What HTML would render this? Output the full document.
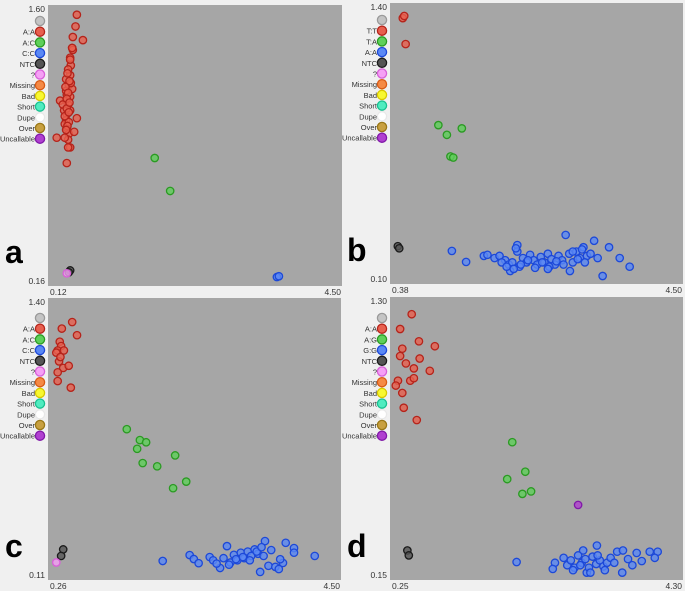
<!DOCTYPE html>
<html><head><meta charset="utf-8">
<style>
body{margin:0;background:#f0f0f0;width:685px;height:591px;overflow:hidden;font-family:"Liberation Sans",sans-serif;}
svg{position:absolute;left:0;top:0}
</style></head>
<body>
<svg id="chart" width="685" height="591"></svg>
<script>
// Panel a
const aRedX=[0.55,0.53,0.49,0.64,0.48,0.49,0.48,0.45,0.46,0.45,0.43,0.40,0.39,0.42,0.40,0.39,0.40,0.43,0.51,0.42,0.45,0.25,0.37,0.42,0.40,0.55,0.30,0.36,0.45,0.39,0.48,0.42,0.39,0.34,0.37,0.45,0.46,0.45,0.40,0.43,0.41,0.44,0.38,0.42,0.40,0.44,0.37,0.43,0.41,0.39];
const aRedY=[1.55,1.49,1.436,1.42,1.38,1.37,1.38,1.33,1.29,1.24,1.19,1.14,1.11,1.09,1.04,1.01,0.97,0.94,0.95,0.91,0.87,0.92,0.92,0.87,0.79,1.02,1.11,1.06,1.06,1.16,1.17,1.27,1.22,1.09,0.99,1.32,1.20,1.13,1.07,1.00,1.25,1.21,1.18,1.15,1.12,1.10,1.03,1.05,0.98,0.96];
const aGreenX=[1.71,1.94];
const aGreenY=[0.816,0.647];
const aBlueX=[3.53,3.56];
const aBlueY=[0.206,0.21];
const aBlackX=[0.45,0.43];
const aBlackY=[0.24,0.23];
const aPinkX=[0.40];
const aPinkY=[0.225];
// Panel b
const bRedX=[0.56,0.58,0.60];
const bRedY=[1.33,1.34,1.21];
const bGreenX=[1.06,1.18,1.39,1.23,1.27];
const bGreenY=[0.835,0.79,0.82,0.69,0.685];
const bBlackX=[0.49,0.51];
const bBlackY=[0.275,0.265];
const bBlueX=[1.25,1.45,1.70,1.75,1.85,1.92,2.00,2.05,2.10,2.17,2.17,2.20,2.25,2.30,2.35,2.40,2.45,2.50,2.55,2.60,2.65,2.70,2.75,2.80,2.85,2.90,2.95,3.00,3.05,3.10,3.15,3.20,3.25,3.30,3.46,3.61,3.75,3.37,2.91,2.07,1.95,2.02,2.12,2.22,2.32,2.42,2.52,2.62,2.72,2.82,3.02,3.12,2.15,2.60,2.95,3.08];
const bBlueY=[0.253,0.202,0.23,0.235,0.22,0.23,0.21,0.19,0.2,0.28,0.25,0.18,0.22,0.2,0.235,0.21,0.19,0.225,0.2,0.24,0.215,0.19,0.23,0.21,0.327,0.24,0.2,0.25,0.22,0.27,0.23,0.24,0.30,0.22,0.27,0.22,0.18,0.137,0.16,0.16,0.2,0.18,0.17,0.19,0.21,0.175,0.2,0.18,0.205,0.19,0.215,0.2,0.265,0.17,0.25,0.26];
// Panel c
const cRedX=[0.46,0.61,0.68,0.43,0.45,0.40,0.38,0.49,0.42,0.48,0.56,0.40,0.40,0.59,0.44];
const cRedY=[1.26,1.29,1.23,1.20,1.18,1.16,1.15,1.16,1.11,1.08,1.09,1.06,1.02,0.99,1.13];
const cGreenX=[1.40,1.59,1.68,1.55,1.63,1.84,2.10,2.07,2.26];
const cGreenY=[0.80,0.75,0.74,0.71,0.645,0.63,0.68,0.53,0.56];
const cBlackX=[0.48,0.45];
const cBlackY=[0.25,0.22];
const cPinkX=[0.38];
const cPinkY=[0.19];
const cBlueX=[1.92,2.31,2.37,2.44,2.60,2.75,2.85,3.40,3.70,3.82,4.12,3.33,3.66,3.49,2.65,2.80,2.90,2.95,3.00,3.05,3.10,3.15,3.20,3.25,3.30,2.70,2.88,2.98,3.08,3.18,3.28,3.35,3.45,3.55,3.62,3.82,3.60,3.38];
const cBlueY=[0.197,0.224,0.206,0.187,0.215,0.165,0.265,0.288,0.28,0.256,0.22,0.147,0.188,0.247,0.2,0.21,0.19,0.225,0.2,0.235,0.21,0.24,0.22,0.25,0.23,0.185,0.18,0.205,0.215,0.2,0.24,0.26,0.175,0.17,0.205,0.235,0.16,0.22];
// Panel d
const dRedX=[0.55,0.39,0.65,0.87,0.42,0.39,0.58,0.80,0.36,0.53,0.58,0.42,0.44,0.62,0.66,0.47,0.33];
const dRedY=[1.23,1.17,1.12,1.10,1.09,1.06,1.01,1.00,0.96,0.96,0.97,0.91,0.85,0.80,1.05,1.03,0.94];
const dGreenX=[1.94,2.12,1.87,2.08,2.20];
const dGreenY=[0.71,0.59,0.56,0.50,0.51];
const dPurpleX=[2.85];
const dPurpleY=[0.455];
const dBlackX=[0.49,0.51];
const dBlackY=[0.27,0.25];
const dBlueX=[2.00,2.53,2.50,3.11,2.92,3.39,3.47,3.66,3.84,3.95,3.91,3.73,3.54,3.46,2.97,2.70,2.75,2.80,2.85,2.90,2.95,3.00,3.05,3.10,3.15,3.20,3.25,3.30,2.78,2.88,3.02,3.12,3.22,3.35,2.65,3.60];
const dBlueY=[0.223,0.22,0.195,0.29,0.27,0.265,0.27,0.26,0.265,0.265,0.24,0.227,0.235,0.18,0.18,0.21,0.23,0.2,0.25,0.22,0.235,0.2,0.245,0.215,0.23,0.205,0.22,0.24,0.19,0.21,0.18,0.25,0.19,0.22,0.24,0.21];

const xTicksA=["0.12","4.50"],yTicksA=["1.60","0.16"];
const xTicksB=["0.38","4.50"],yTicksB=["1.40","0.10"];
const xTicksC=["0.26","4.50"],yTicksC=["1.40","0.11"];
const xTicksD=["0.25","4.30"],yTicksD=["1.30","0.15"];
const legA=["","A:A","A:C","C:C","NTC","?","Missing","Bad","Short","Dupe","Over","Uncallable"];
const legB=["","T:T","T:A","A:A","NTC","?","Missing","Bad","Short","Dupe","Over","Uncallable"];
const legC=["","A:A","A:C","C:C","NTC","?","Missing","Bad","Short","Dupe","Over","Uncallable"];
const legD=["","A:A","A:G","G:G","NTC","?","Missing","Bad","Short","Dupe","Over","Uncallable"];

const C={gray:["#c4c4c4","#9a9a9a"],red:["#e8604f","#b5231a"],green:["#5fd05a","#2a9a22"],blue:["#5a88f5","#1c48d8"],black:["#555","#1a1a1a"],pink:["#f5a0f5","#d860d8"],orange:["#f58a45","#d85a15"],yellow:["#f8f830","#d8c800"],teal:["#50ecc0","#18c090"],white:["#ffffff","#e8e8e8"],over:["#c8a040","#9a7818"],purple:["#b040d0","#8018a8"]};
const legCols=["gray","red","green","blue","black","pink","orange","yellow","teal","white","over","purple"];
const svg=document.getElementById('chart');const NS="http://www.w3.org/2000/svg";
function mk(t,a,p){const e=document.createElementNS(NS,t);for(const k in a)e.setAttribute(k,a[k]);(p||svg).appendChild(e);return e;}
const panels=[
 {id:"a",l:48,t:5,r:342,b:286,xd:[0.12,4.5],yd:[0.16,1.6],xt:xTicksA,yt:yTicksA,leg:legA,ly:21,ls:[["red",aRedX,aRedY],["green",aGreenX,aGreenY],["blue",aBlueX,aBlueY],["black",aBlackX,aBlackY],["pink",aPinkX,aPinkY]]},
 {id:"b",l:390,t:3,r:683,b:284,xd:[0.38,4.5],yd:[0.10,1.4],xt:xTicksB,yt:yTicksB,leg:legB,ly:20,ls:[["red",bRedX,bRedY],["green",bGreenX,bGreenY],["blue",bBlueX,bBlueY],["black",bBlackX,bBlackY]]},
 {id:"c",l:48,t:298,r:341,b:580,xd:[0.26,4.5],yd:[0.11,1.4],xt:xTicksC,yt:yTicksC,leg:legC,ly:318,ls:[["red",cRedX,cRedY],["green",cGreenX,cGreenY],["blue",cBlueX,cBlueY],["black",cBlackX,cBlackY],["pink",cPinkX,cPinkY]]},
 {id:"d",l:390,t:297,r:683,b:580,xd:[0.25,4.3],yd:[0.15,1.3],xt:xTicksD,yt:yTicksD,leg:legD,ly:318,ls:[["red",dRedX,dRedY],["green",dGreenX,dGreenY],["purple",dPurpleX,dPurpleY],["blue",dBlueX,dBlueY],["black",dBlackX,dBlackY]]}
];
panels.forEach(P=>{
 const g=mk('g',{});
 
 
 const bg=mk('rect',{x:P.l,y:P.t,width:P.r-P.l,height:P.b-P.t,fill:"#a6a6a6"},g);
 
 
 const sx=v=>P.l+(v-P.xd[0])/(P.xd[1]-P.xd[0])*(P.r-P.l);
 const sy=v=>P.b-(v-P.yd[0])/(P.yd[1]-P.yd[0])*(P.b-P.t);
 const yt1=mk('text',{x:P.l-3,y:P.t+7,'text-anchor':'end','font-size':8.5,fill:"#333"},g);yt1.textContent=P.yt[0];
 
 
 const yt2=mk('text',{x:P.l-3,y:P.b-2,'text-anchor':'end','font-size':8.5,fill:"#333"},g);yt2.textContent=P.yt[1];
 
 
 const xt1=mk('text',{x:P.l+2,y:P.b+9,'font-size':8.5,fill:"#333"},g);xt1.textContent=P.xt[0];
 
 
 const xt2=mk('text',{x:P.r-1,y:P.b+9,'text-anchor':'end','font-size':8.5,fill:"#333"},g);xt2.textContent=P.xt[1];
 
 
 P.leg.forEach((lab,i)=>{
  const y=P.ly+i*10.7;const col=C[legCols[i]];
  const c=mk('circle',{cx:P.l-8,cy:y,r:4.6,fill:col[0],stroke:col[1],'stroke-width':1.3},g);
  
  
  if(lab){const t=mk('text',{x:P.l-13,y:y+3,'text-anchor':'end','font-size':7.5,fill:"#333"},g);t.textContent=lab;
  
  }
 });
 P.ls.forEach(([col,xs,ys])=>{
  xs.forEach((v,i)=>{
   const c=mk('circle',{cx:sx(v),cy:sy(ys[i]),r:3.7,fill:C[col][0],'fill-opacity':0.8,stroke:C[col][1],'stroke-width':1.3},g);
   
   
  });
 });
 const L=mk('text',{x:P.l-43,y:P.b-23,'font-size':32,'font-weight':'bold',fill:"#000"},g);L.textContent=P.id;
 
 
});
</script>
</body></html>
